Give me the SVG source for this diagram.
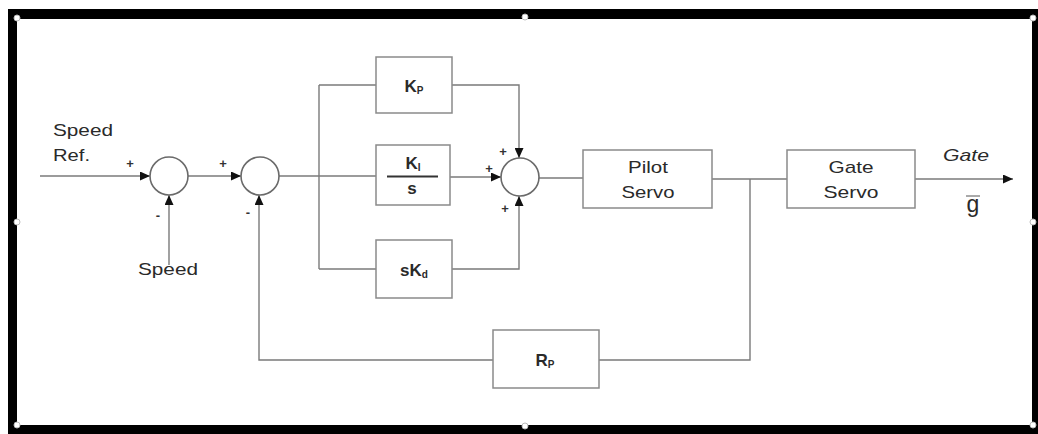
<svg xmlns="http://www.w3.org/2000/svg" width="1038" height="434" viewBox="0 0 1038 434">
<style>
  .box{fill:#fff;stroke:#8a8a8a;stroke-width:1.5}
  .sum{fill:#fff;stroke:#6a6a6a;stroke-width:1.6}
  .ln{fill:none;stroke:#7a7a7a;stroke-width:1.4}
  .lbl{font-family:"Liberation Sans",Arial,sans-serif;font-size:17px;fill:#2a2a2a}
  .math{font-family:"Liberation Sans",Arial,sans-serif;font-size:17px;font-weight:bold;fill:#2a2a2a}
  .sub{font-size:10px}
  .sgn{font-family:"Liberation Sans",Arial,sans-serif;font-size:13px;fill:#333;font-weight:bold}
  .hdl{fill:#fff;stroke:#bbb;stroke-width:1}
</style>
<defs>
  <marker id="arr" markerUnits="userSpaceOnUse" markerWidth="11" markerHeight="9" refX="10" refY="4.5" orient="auto">
    <path d="M0,0 L10,4.5 L0,9 z" fill="#111"/>
  </marker>
</defs>
<rect x="0" y="0" width="1038" height="434" fill="#fff"/>

<g id="frame">
  <rect x="8" y="9" width="1030" height="10" fill="#000"/>
  <rect x="8" y="9" width="9" height="425" fill="#000"/>
  <rect x="8" y="425" width="1030" height="9" fill="#000"/>
  <rect x="1032" y="9" width="6" height="425" fill="#000"/>
  <circle class="hdl" cx="17" cy="18" r="3"/>
  <circle class="hdl" cx="1033" cy="18" r="3"/>
  <circle class="hdl" cx="17" cy="425" r="3"/>
  <circle class="hdl" cx="1033" cy="425" r="3"/>
  <circle class="hdl" cx="17" cy="222" r="3"/>
  <circle class="hdl" cx="1033" cy="222" r="3"/>
  <circle class="hdl" cx="525" cy="17" r="3"/>
  <circle class="hdl" cx="525" cy="426" r="3"/>
</g>

<g id="connectors">
  <path class="ln" d="M40,176 H150" marker-end="url(#arr)"/>
  <path class="ln" d="M169,265 V195" marker-end="url(#arr)"/>
  <path class="ln" d="M188,176 H241" marker-end="url(#arr)"/>
  <path class="ln" d="M279,176 H376"/>
  <path class="ln" d="M319,85 V269"/>
  <path class="ln" d="M319,85 H376"/>
  <path class="ln" d="M319,269 H376"/>
  <path class="ln" d="M452,85 H519 V158" marker-end="url(#arr)"/>
  <path class="ln" d="M450,177 H501" marker-end="url(#arr)"/>
  <path class="ln" d="M452,269 H519 V196" marker-end="url(#arr)"/>
  <path class="ln" d="M539,178 H583"/>
  <path class="ln" d="M712,179 H787"/>
  <path class="ln" d="M915,179 H1013" marker-end="url(#arr)"/>
  <path class="ln" d="M750,179 V360 H599"/>
  <path class="ln" d="M493,360 H259 V195" marker-end="url(#arr)"/>
</g>

<g id="speed-ref">
  <text class="lbl" x="53" y="136" textLength="60" lengthAdjust="spacingAndGlyphs">Speed</text>
  <text class="lbl" x="53" y="161" textLength="37" lengthAdjust="spacingAndGlyphs">Ref.</text>
</g>

<g id="sum1">
  <circle class="sum" cx="169" cy="176" r="19"/>
  <text class="sgn" x="130" y="168" text-anchor="middle">+</text>
  <text class="sgn" x="158" y="220" text-anchor="middle">-</text>
</g>

<g id="speed">
  <text class="lbl" x="168" y="275" text-anchor="middle" textLength="60" lengthAdjust="spacingAndGlyphs">Speed</text>
</g>

<g id="sum2">
  <circle class="sum" cx="260" cy="176" r="19"/>
  <text class="sgn" x="223" y="168" text-anchor="middle">+</text>
  <text class="sgn" x="248" y="217" text-anchor="middle">-</text>
</g>

<g id="kp">
  <rect class="box" x="376" y="57" width="76" height="56"/>
  <text class="math" x="414" y="92" text-anchor="middle">K<tspan class="sub" dy="2">P</tspan></text>
</g>

<g id="ki">
  <rect class="box" x="376" y="145" width="74" height="60"/>
  <text class="math" x="413" y="169" text-anchor="middle">K<tspan class="sub" dy="2">I</tspan></text>
  <line x1="387" y1="176.5" x2="438" y2="176.5" stroke="#333" stroke-width="2"/>
  <text class="math" x="412" y="194" text-anchor="middle">s</text>
</g>

<g id="kd">
  <rect class="box" x="376" y="240" width="76" height="58"/>
  <text class="math" x="414" y="276" text-anchor="middle">sK<tspan class="sub" dy="2">d</tspan></text>
</g>

<g id="sum3">
  <circle class="sum" cx="520" cy="177" r="19"/>
  <text class="sgn" x="503" y="156" text-anchor="middle">+</text>
  <text class="sgn" x="489" y="173" text-anchor="middle">+</text>
  <text class="sgn" x="505" y="213" text-anchor="middle">+</text>
</g>

<g id="pilot-servo">
  <rect class="box" x="583" y="150" width="129" height="58"/>
  <text class="lbl" x="648" y="173" text-anchor="middle" textLength="40" lengthAdjust="spacingAndGlyphs">Pilot</text>
  <text class="lbl" x="648" y="198" text-anchor="middle" textLength="53" lengthAdjust="spacingAndGlyphs">Servo</text>
</g>

<g id="gate-servo">
  <rect class="box" x="787" y="150" width="128" height="58"/>
  <text class="lbl" x="851" y="173" text-anchor="middle" textLength="45" lengthAdjust="spacingAndGlyphs">Gate</text>
  <text class="lbl" x="851" y="198" text-anchor="middle" textLength="55" lengthAdjust="spacingAndGlyphs">Servo</text>
</g>

<g id="rp">
  <rect class="box" x="493" y="330" width="106" height="58"/>
  <text class="math" x="545" y="366" text-anchor="middle">R<tspan class="sub" dy="2">P</tspan></text>
</g>

<g id="output">
  <text class="lbl" x="943" y="161" font-style="italic" textLength="46" lengthAdjust="spacingAndGlyphs">Gate</text>
  <text class="lbl" x="973" y="212" text-anchor="middle" style="font-size:23px">g</text>
  <line x1="966" y1="196" x2="980" y2="196" stroke="#555" stroke-width="1"/>
</g>
</svg>
